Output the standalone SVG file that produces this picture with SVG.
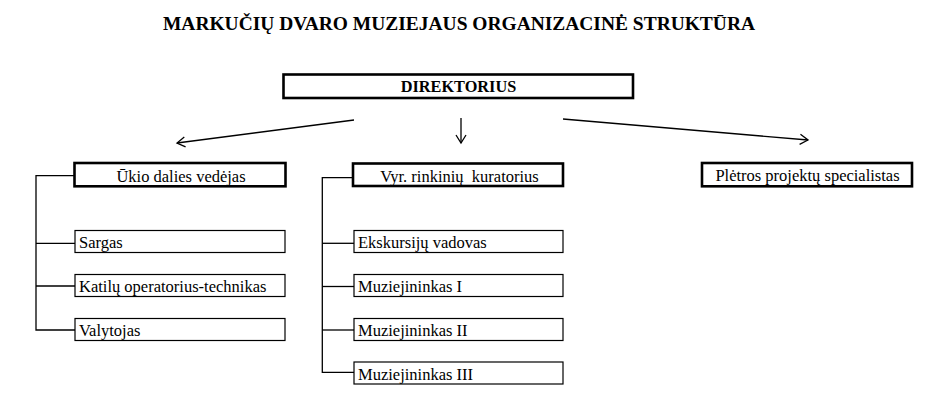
<svg xmlns="http://www.w3.org/2000/svg" width="941" height="405" viewBox="0 0 941 405">
<style>
text{font-family:"Liberation Serif","Times New Roman",serif;fill:#000}
.title{font-size:19px;font-weight:bold}
.head{font-size:16.3px;font-weight:bold}
.lbl{font-size:16.5px}
.thick{fill:#fff;stroke:#000;stroke-width:2.6}
.thin{fill:#fff;stroke:#000;stroke-width:1.2}
.conn{fill:none;stroke:#000;stroke-width:1.3}
</style>
<defs>
<marker id="arr" markerUnits="userSpaceOnUse" markerWidth="14" markerHeight="14" refX="9" refY="6" orient="auto">
<path d="M1,1 L9,6 L1,11" fill="none" stroke="#000" stroke-width="1.3"/>
</marker>
</defs>
<rect width="941" height="405" fill="#fff"/>
<text class="title" x="459" y="29.5" text-anchor="middle" textLength="592" lengthAdjust="spacingAndGlyphs">MARKUČIŲ DVARO MUZIEJAUS ORGANIZACINĖ STRUKTŪRA</text>

<g id="connectors">
<line class="conn" x1="354" y1="120" x2="177" y2="143" marker-end="url(#arr)"/>
<line class="conn" x1="461" y1="118" x2="461" y2="143" marker-end="url(#arr)"/>
<line class="conn" x1="563" y1="119" x2="808" y2="140" marker-end="url(#arr)"/>
<polyline class="conn" points="74,175.7 36,175.7 36,330 75,330"/>
<line class="conn" x1="36" y1="243.3" x2="75" y2="243.3"/>
<line class="conn" x1="36" y1="286" x2="75" y2="286"/>
<polyline class="conn" points="352.7,177.7 322.3,177.7 322.3,372.3 354,372.3"/>
<line class="conn" x1="322.3" y1="243.3" x2="354" y2="243.3"/>
<line class="conn" x1="322.3" y1="286.5" x2="354" y2="286.5"/>
<line class="conn" x1="322.3" y1="330" x2="354" y2="330"/>
</g>

<g id="direktorius">
<rect class="thick" x="283.5" y="74.5" width="349.5" height="23.5"/>
<text class="head" x="458.5" y="91.7" text-anchor="middle">DIREKTORIUS</text>
</g>

<g id="ukio">
<rect class="thick" x="74.5" y="163" width="211" height="23.3"/>
<text class="lbl" x="181" y="181.5" text-anchor="middle">Ūkio dalies vedėjas</text>
</g>
<g id="sargas">
<rect class="thin" x="75" y="230.5" width="210" height="22"/>
<text class="lbl" x="79" y="248.3">Sargas</text>
</g>
<g id="katilu">
<rect class="thin" x="75" y="274.5" width="210" height="22"/>
<text class="lbl" x="79" y="292">Katilų operatorius-technikas</text>
</g>
<g id="valytojas">
<rect class="thin" x="75" y="318.5" width="210" height="22"/>
<text class="lbl" x="79" y="336">Valytojas</text>
</g>

<g id="vyr">
<rect class="thick" x="353" y="163.5" width="210" height="22.5"/>
<text class="lbl" x="459.5" y="181.5" text-anchor="middle" xml:space="preserve">Vyr. rinkinių  kuratorius</text>
</g>
<g id="ekskursiju">
<rect class="thin" x="354" y="230.5" width="209" height="22"/>
<text class="lbl" x="358" y="248.3">Ekskursijų vadovas</text>
</g>
<g id="muz1">
<rect class="thin" x="354" y="274.5" width="209" height="22"/>
<text class="lbl" x="358" y="292">Muziejininkas I</text>
</g>
<g id="muz2">
<rect class="thin" x="354" y="318.5" width="209" height="22"/>
<text class="lbl" x="358" y="336">Muziejininkas II</text>
</g>
<g id="muz3">
<rect class="thin" x="354" y="362" width="209" height="22"/>
<text class="lbl" x="358" y="379.5">Muziejininkas III</text>
</g>

<g id="pletros">
<rect class="thick" x="702" y="163" width="210" height="23.3"/>
<text class="lbl" x="807.5" y="181" text-anchor="middle">Plėtros projektų specialistas</text>
</g>
</svg>
